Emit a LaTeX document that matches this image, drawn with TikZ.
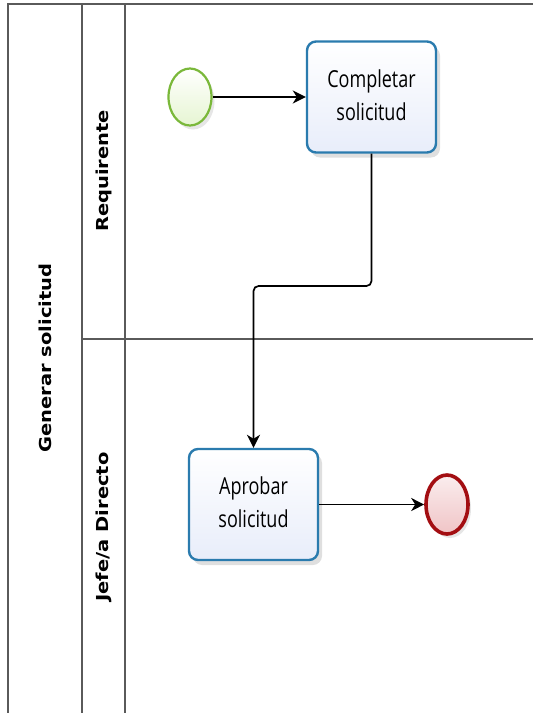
\documentclass[tikz,border=0pt]{standalone}
\usepackage{fontspec}
\setmainfont{Open Sans}
\newfontfamily\lanefont{DejaVu Sans}
\usetikzlibrary{shadows,arrows.meta,shapes.geometric}
\definecolor{taskblue}{HTML}{2A7BAE}
\definecolor{taskfill}{HTML}{E8EDFA}
\definecolor{startgreen}{HTML}{7AB83A}
\definecolor{startfill}{HTML}{E6F5D2}
\definecolor{endred}{HTML}{A30E12}
\definecolor{endfill}{HTML}{F0C4C6}
\definecolor{poolgray}{HTML}{5A5A5A}
% stretched two line task text
\newcommand{\tasktext}[2]{\scalebox{1}[1.3]{\begin{tabular}{@{}c@{}}#1\\#2\end{tabular}}}
\newcommand{\lanetext}[1]{\scalebox{1.18}[1]{#1}}
\begin{document}
\begin{tikzpicture}[x=1pt,y=-1pt,
	pool/.style={line width=1.4pt, poolgray},
	lanelabel/.style={font=\lanefont\bfseries\fontsize{16.5}{20}\selectfont, rotate=90},
	task/.style={draw=taskblue, line width=2.4pt, rounded corners=9pt, top color=white, bottom color=taskfill, minimum width=129pt, minimum height=111pt, align=center, font=\fontsize{18}{25.5}\selectfont, drop shadow={opacity=0.25, shadow xshift=4pt, shadow yshift=-5pt}},
	startev/.style={ellipse, draw=startgreen, line width=2.2pt, top color=white, bottom color=startfill, minimum width=43pt, minimum height=57pt, inner sep=0pt, drop shadow={opacity=0.2, shadow xshift=3pt, shadow yshift=-4pt}},
	endev/.style={ellipse, draw=endred, line width=3.6pt, top color=white!70!endfill, bottom color=endfill, minimum width=42pt, minimum height=59pt, inner sep=0pt, drop shadow={opacity=0.2, shadow xshift=3pt, shadow yshift=-4pt}},
	flow/.style={line width=1.7pt, black, -{Stealth[length=13pt,width=13pt,inset=4pt]}}]
	\useasboundingbox (0,0) rectangle (533,713);
	% pool and lanes
	\draw[pool] (8,713) -- (8,4) -- (533,4);
	\draw[pool] (82,4) -- (82,713);
	\draw[pool] (125,4) -- (125,713);
	\draw[pool] (82,339) -- (533,339);
	\node[lanelabel] (pooltitle) at (45,358) {\lanetext{Generar solicitud}};
	\node[lanelabel] (lanereq) at (104,171) {\lanetext{Requirente}};
	\node[lanelabel] (lanejefe) at (104,527) {\lanetext{Jefe/a Directo}};
	% events and tasks
	\node[startev] (start) at (190,97) {};
	\node[task] (completar) at (371.5,97) {\tasktext{Completar}{solicitud}};
	\node[task] (aprobar) at (253.5,504.5) {\tasktext{Aprobar}{solicitud}};
	\node[endev] (end) at (447,504.5) {};
	% flows
	\coordinate (bend) at (0,286);
	\draw[flow] (start) -- (completar);
	\draw[flow, rounded corners=5pt] (completar.south) -- (completar.south |- bend) -- (aprobar.north |- bend) -- (aprobar.north);
	\draw[flow] (aprobar) -- (end);
\end{tikzpicture}
\end{document}
